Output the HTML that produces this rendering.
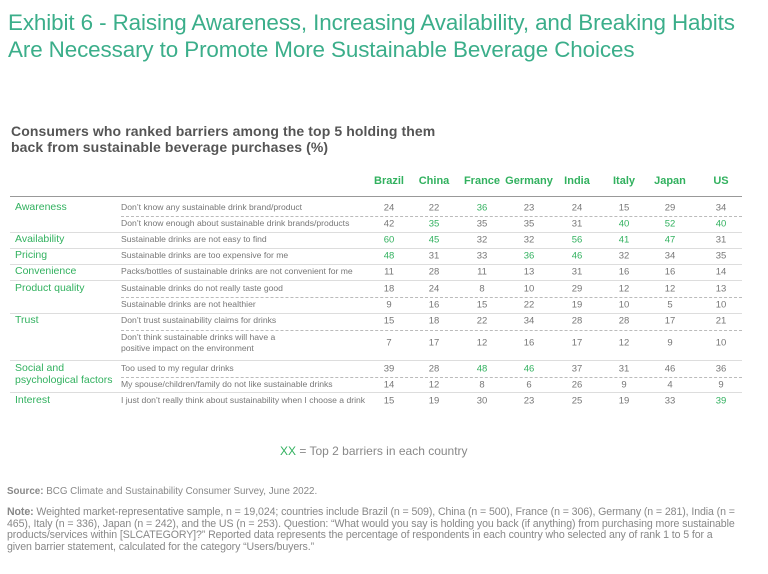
<!DOCTYPE html>
<html><head><meta charset="utf-8">
<style>
html,body{margin:0;padding:0;background:#fff;}
body{width:768px;height:574px;position:relative;overflow:hidden;font-family:"Liberation Sans",sans-serif;}
.abs{position:absolute;white-space:nowrap;}
#title{left:8px;top:9px;font-size:22.4px;line-height:27px;color:#3bae8a;letter-spacing:-0.1px;}
#subtitle{left:11px;top:123px;font-size:14px;line-height:16px;font-weight:bold;color:#555;letter-spacing:0.1px;}
.hdr{top:175px;font-size:11px;font-weight:bold;color:#32b15f;transform:translateX(-50%);}
.cat{left:15px;font-size:10.5px;color:#32b15f;line-height:12px;}
.stmt{left:121px;font-size:8.6px;color:#777;line-height:10.5px;}
.num{font-size:9.5px;color:#777;transform:translate(-50%,-50%);}
.num.hi{color:#32b15f;}
.line{position:absolute;left:10px;width:732px;height:0;border-top:1.5px solid #ddd;}
.dash{position:absolute;left:121px;width:621px;height:0;border-top:1px dashed #bbb;}
#legend{left:280px;top:444px;font-size:12px;color:#888;}
#source{left:7px;top:486px;font-size:9.8px;color:#888;}
#note{left:7px;top:507px;font-size:10.6px;line-height:11.5px;color:#888;white-space:nowrap;letter-spacing:-0.1px;}
b{color:#888;}
</style></head>
<body>
<div id="title" class="abs">Exhibit 6 - Raising Awareness, Increasing Availability, and Breaking Habits<br>Are Necessary to Promote More Sustainable Beverage Choices</div>
<div id="subtitle" class="abs">Consumers who ranked barriers among the top 5 holding them<br>back from sustainable beverage purchases (%)</div>
<div id="table"></div>
<div id="legend" class="abs"><span style="color:#32b15f">XX</span> = Top 2 barriers in each country</div>
<div id="source" class="abs"><b>Source:</b> BCG Climate and Sustainability Consumer Survey, June 2022.</div>
<div id="note" class="abs"><b>Note:</b> Weighted market-representative sample, n = 19,024; countries include Brazil (n = 509), China (n = 500), France (n = 306), Germany (n = 281), India (n =<br>465), Italy (n = 336), Japan (n = 242), and the US (n = 253). Question: “What would you say is holding you back (if anything) from purchasing more sustainable<br>products/services within [SLCATEGORY]?” Reported data represents the percentage of respondents in each country who selected any of rank 1 to 5 for a<br>given barrier statement, calculated for the category “Users/buyers.”</div>
<script>
const countries = ["Brazil","China","France","Germany","India","Italy","Japan","US"];
const statements = [
 "Don’t know any sustainable drink brand/product",
 "Don’t know enough about sustainable drink brands/products",
 "Sustainable drinks are not easy to find",
 "Sustainable drinks are too expensive for me",
 "Packs/bottles of sustainable drinks are not convenient for me",
 "Sustainable drinks do not really taste good",
 "Sustainable drinks are not healthier",
 "Don’t trust sustainability claims for drinks",
 "Don’t think sustainable drinks will have a<br>positive impact on the environment",
 "Too used to my regular drinks",
 "My spouse/children/family do not like sustainable drinks",
 "I just don’t really think about sustainability when I choose a drink"
];
const values = [
 [24,22,36,23,24,15,29,34],
 [42,35,35,35,31,40,52,40],
 [60,45,32,32,56,41,47,31],
 [48,31,33,36,46,32,34,35],
 [11,28,11,13,31,16,16,14],
 [18,24,8,10,29,12,12,13],
 [9,16,15,22,19,10,5,10],
 [15,18,22,34,28,28,17,21],
 [7,17,12,16,17,12,9,10],
 [39,28,48,46,37,31,46,36],
 [14,12,8,6,26,9,4,9],
 [15,19,30,23,25,19,33,39]
];
const highlights = [
 [0,0,1,0,0,0,0,0],
 [0,1,0,0,0,1,1,1],
 [1,1,0,0,1,1,1,0],
 [1,0,0,1,1,0,0,0],
 [0,0,0,0,0,0,0,0],
 [0,0,0,0,0,0,0,0],
 [0,0,0,0,0,0,0,0],
 [0,0,0,0,0,0,0,0],
 [0,0,0,0,0,0,0,0],
 [0,0,1,1,0,0,0,0],
 [0,0,0,0,0,0,0,0],
 [0,0,0,0,0,0,0,1]
];
const categories = ["Awareness","Availability","Pricing","Convenience","Product quality","Trust","Social and<br>psychological factors","Interest"];
const categoryStartRow = [0,2,3,4,5,7,9,11];

// layout
const colX = [389,434,482,529,577,624,670,721];
const rowY = [208,224,240,256,272,289,305,321,343,369,385,401];
const solidY = [196,232,248,264,280,313,360,392];
const dashY = [216,297,330,377];

const t = document.getElementById('table');
function mk(cls, name, x, y, html){
  const d=document.createElement('div');
  d.className='abs '+cls;
  d.style.left=x+'px'; d.style.top=y+'px';
  d.innerHTML=html;
  
  
  t.appendChild(d); return d;
}
countries.forEach((c,i)=>{
  mk('hdr','column-header-'+c.toLowerCase(),colX[i],175,c);
});
solidY.forEach((y,i)=>{
  const d=document.createElement('div');
  d.className='line';
  d.style.top=y+'px';
  if(i===0) d.style.borderTopColor='#999';
  
  
  t.appendChild(d);
});
dashY.forEach(y=>{
  const d=document.createElement('div');
  d.className='dash';
  d.style.top=y+'px';
  
  
  t.appendChild(d);
});
categories.forEach((c,i)=>{
  const r=categoryStartRow[i];
  mk('cat','category-label',15,rowY[r]-7,c);
});
statements.forEach((s,r)=>{
  const two=s.indexOf('<br>')>=0;
  mk('stmt','barrier-statement',121,rowY[r]-(two?11:6),s);
  values[r].forEach((v,c)=>{
    mk('num'+(highlights[r][c]?' hi':''),'value-cell',colX[c],rowY[r],String(v));
  });
});
</script>
</body></html>
